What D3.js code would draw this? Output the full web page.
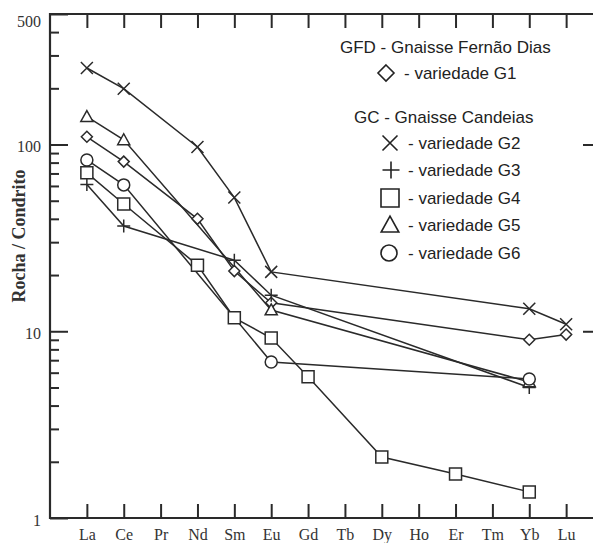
<!DOCTYPE html>
<html><head><meta charset="utf-8">
<script src="https://cdn.jsdelivr.net/npm/d3@7"></script>
<style>body{margin:0;background:#fff}svg{display:block}</style>
</head><body>
<svg id="c" width="593" height="543"></svg>
<script>
const elements = ["La","Ce","Pr","Nd","Sm","Eu","Gd","Tb","Dy","Ho","Er","Tm","Yb","Lu"];
const yTickLabels = [1, 10, 100, 500];
// values per element (null = not plotted)
const g1 = [110, 81, null, 40, 21, 14.2, null, null, null, null, null, null, 9.0, 9.6];
const g2 = [257, 199, null, 97, 52, 20.8, null, null, null, null, null, null, 13.2, 10.9];
const g3 = [61, 36.6, null, null, 24, 15.6, null, null, null, null, null, null, 5.0, null];
const g4 = [70.5, 48, null, 22.6, 11.8, 9.2, 5.7, null, 2.12, null, 1.72, null, 1.38, null];
const g5 = [141, 106, null, null, null, 13.0, null, null, null, null, null, null, 5.35, null];
const g6 = [82.7, 60.8, null, null, null, 6.85, null, null, null, null, null, null, 5.55, null];
const seriesNames = ["GFD - Gnaisse Fernão Dias", "GC - Gnaisse Candeias"];
const legendLabels = ["- variedade G1","- variedade G2","- variedade G3","- variedade G4","- variedade G5","- variedade G6"];

const series = [
  {vals: g1, sym: "diamond"},
  {vals: g2, sym: "x"},
  {vals: g3, sym: "plus"},
  {vals: g4, sym: "square"},
  {vals: g5, sym: "triangle"},
  {vals: g6, sym: "circle"}
];

const INK = "#2a2a2a";
const svg = d3.select("#c");
const L = 50, R = 603, T = 14, B = 518;
const x = d3.scalePoint().domain(elements).range([L, R]).padding(1);
const y = d3.scaleLog().domain([1, 500]).range([B, T]);

function symPath(sym, s) {
  const h = s / 2;
  switch (sym) {
    case "diamond": return `M0,${-h}L${h},0L0,${h}L${-h},0Z`;
    case "x": return `M${-h},${-h}L${h},${h}M${-h},${h}L${h},${-h}`;
    case "plus": return `M${-h},0L${h},0M0,${-h}L0,${h}`;
    case "square": return `M${-h},${-h}H${h}V${h}H${-h}Z`;
    case "triangle": { const r = h * 1.1; return `M0,${-r}L${r},${r*0.8}L${-r},${r*0.8}Z`; }
    case "circle": return `M${h},0A${h},${h} 0 1,1 ${-h},0A${h},${h} 0 1,1 ${h},0Z`;
  }
}
const symSize = {diamond: 11, x: 12, plus: 13, square: 12, triangle: 11, circle: 12};

// minor ticks
const minors = [];
[1, 10, 100].forEach(d => { for (let k = 2; k <= 9; k++) if (d * k < 500) minors.push(d * k); });

// left axis
svg.append("g").attr("transform", `translate(${L},0)`)
  .call(d3.axisLeft(y).tickValues(minors).tickSize(-9).tickFormat(""))
  .call(g => g.select(".domain").remove());
const la = svg.append("g").attr("transform", `translate(${L},0)`)
  .call(d3.axisLeft(y).tickValues(yTickLabels).tickSize(-18).tickPadding(9).tickFormat(d3.format("d")))
  .call(g => g.select(".domain").remove());
la.selectAll("text").attr("font-family", "'Liberation Serif', serif").attr("font-size", 16).attr("fill", "#333")
  .attr("dy", d => d === 500 ? "0.75em" : "0.45em");
// right axis
svg.append("g").attr("transform", `translate(${R},0)`)
  .call(d3.axisRight(y).tickValues(minors).tickSize(-10).tickFormat(""))
  .call(g => g.select(".domain").remove());
svg.append("g").attr("transform", `translate(${R},0)`)
  .call(d3.axisRight(y).tickValues([10, 100]).tickSize(-20).tickFormat(""))
  .call(g => g.select(".domain").remove());
// top axis
svg.append("g").attr("transform", `translate(0,${T})`)
  .call(d3.axisTop(x).tickSize(-14).tickFormat(""))
  .call(g => g.select(".domain").remove());
// bottom axis
const ba = svg.append("g").attr("transform", `translate(0,${B})`)
  .call(d3.axisBottom(x).tickSize(-14).tickPadding(11))
  .call(g => g.select(".domain").remove());
ba.selectAll("text").attr("font-family", "'Liberation Serif', serif").attr("font-size", 16).attr("fill", "#333");

svg.selectAll(".tick line").attr("stroke", INK).attr("stroke-width", 2);

// frame
svg.append("path")
  .attr("d", `M${R},${T}H${L}V${B}H${R}`)
  .attr("fill", "none").attr("stroke", INK).attr("stroke-width", 2.2);

// y title
svg.append("text")
  .attr("transform", "translate(25,236) rotate(-90)")
  .attr("text-anchor", "middle")
  .attr("font-family", "'Liberation Serif', serif").attr("font-weight", "bold").attr("font-size", 18)
  .attr("fill", "#333")
  .text("Rocha / Condrito");

// lines and markers
const line = d3.line().x(d => x(d.e)).y(d => y(d.v));
series.forEach(s => {
  const pts = elements.map((e, i) => ({e, v: s.vals[i]})).filter(d => d.v != null);
  svg.append("path").datum(pts).attr("d", line)
    .attr("fill", "none").attr("stroke", INK).attr("stroke-width", 1.5);
  s.pts = pts;
});
series.forEach(s => {
  svg.append("g").selectAll("path").data(s.pts).join("path")
    .attr("transform", d => `translate(${x(d.e)},${y(d.v)})`)
    .attr("d", symPath(s.sym, symSize[s.sym]))
    .attr("fill", (s.sym === "x" || s.sym === "plus") ? "none" : "#fff")
    .attr("stroke", INK).attr("stroke-width", 1.5);
});

// legend
const lg = svg.append("g").attr("font-family", "'Liberation Sans', Arial, sans-serif").attr("font-size", 17).attr("fill", "#222");
lg.append("text").attr("x", 340).attr("y", 53).text(seriesNames[0]);
lg.append("text").attr("x", 354).attr("y", 123).text(seriesNames[1]);
const legRows = [
  {ty: 79, my: 73, mx: 386, tx: 404},
  {ty: 149, my: 143, mx: 390, tx: 408},
  {ty: 176, my: 170, mx: 391, tx: 408},
  {ty: 204, my: 198, mx: 390, tx: 408},
  {ty: 231, my: 225, mx: 390, tx: 408},
  {ty: 259, my: 253, mx: 389, tx: 408}
];
const legSize = {diamond: 16, x: 15, plus: 17, square: 18, triangle: 16, circle: 16};
series.forEach((s, i) => {
  const r = legRows[i];
  lg.append("path").attr("transform", `translate(${r.mx},${r.my})`)
    .attr("d", symPath(s.sym, legSize[s.sym]))
    .attr("fill", "none").attr("stroke", "#222").attr("stroke-width", 1.6);
  lg.append("text").attr("x", r.tx).attr("y", r.ty).text(legendLabels[i]);
});
</script>
</body></html>
